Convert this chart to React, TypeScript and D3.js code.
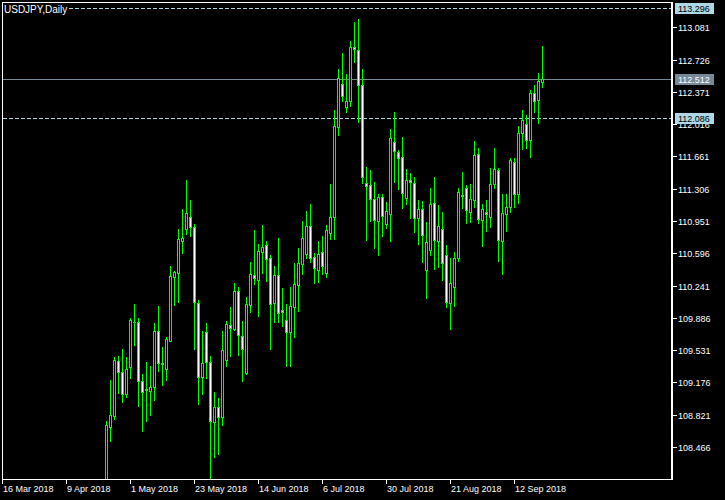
import React, { useEffect } from 'react';
import * as d3 from 'd3';

const chartTitle = 'USDJPY,Daily';
const calendarStart = '2018-03-16';
const calendarEnd = '2018-09-21';
const firstBarDate = '2018-04-23';
const tickDates = ['2018-03-16', '2018-04-09', '2018-05-01', '2018-05-23', '2018-06-14', '2018-07-06', '2018-07-30', '2018-08-21', '2018-09-12'];
const priceTicks = [113.081, 112.726, 112.371, 112.016, 111.661, 111.306, 110.951, 110.596, 110.241, 109.886, 109.531, 109.176, 108.821, 108.466];
const priceDomain = [108.114, 113.359];
const bidPrice = 112.512;
const levelPrices = [113.296, 112.086];

const openP = [107.700, 108.689, 108.810, 109.411, 109.287, 109.045, 109.342, 109.845, 109.837, 109.188,
  109.092, 109.085, 109.122, 109.738, 109.386, 109.327, 109.635, 110.338, 110.382, 110.734,
  110.860, 110.998, 110.888, 110.046, 109.239, 109.727, 109.397, 108.744, 108.902, 108.799,
  109.419, 109.804, 109.767, 110.178, 109.683, 109.283, 110.030, 110.354, 110.305, 110.607,
  110.684, 110.541, 110.052, 110.354, 109.969, 109.859, 109.734, 110.008, 110.250, 110.475,
  110.585, 110.893, 110.552, 110.409, 110.607, 110.376, 110.816, 110.998, 111.981, 112.454,
  112.201, 112.267, 112.861, 112.828, 112.443, 111.365, 111.343, 111.189, 110.954, 111.211,
  110.921, 111.025, 111.816, 111.706, 111.651, 111.207, 111.402, 111.365, 110.987, 111.080,
  110.415, 110.635, 111.146, 110.728, 110.860, 110.574, 110.052, 110.222, 110.547, 111.242,
  111.310, 111.047, 111.185, 111.684, 110.959, 111.047, 110.992, 111.361, 111.508, 110.734,
  111.025, 111.102, 111.596, 111.251, 111.915, 112.014, 111.838, 112.355, 112.278, 112.483];

const highP = [108.752, 109.202, 109.452, 109.466, 109.543, 109.455, 109.881, 110.038, 109.881, 109.268,
  109.400, 109.356, 109.826, 110.016, 109.565, 109.675, 110.453, 110.401, 110.860, 111.083,
  111.402, 111.182, 110.918, 110.082, 109.741, 109.826, 109.466, 109.070, 109.004, 109.741,
  109.851, 110.005, 110.269, 110.225, 109.851, 110.115, 110.500, 110.852, 110.698, 110.907,
  110.731, 110.577, 110.456, 110.764, 110.214, 110.038, 110.225, 110.489, 110.654, 110.951,
  111.061, 111.138, 110.599, 110.731, 110.786, 110.907, 111.358, 112.171, 112.619, 112.798,
  112.567, 112.927, 113.139, 113.172, 112.619, 111.545, 111.512, 111.380, 111.248, 111.248,
  111.160, 111.963, 112.149, 111.735, 111.875, 111.523, 111.479, 111.435, 111.182, 111.171,
  110.940, 111.314, 111.435, 111.127, 111.050, 110.687, 110.544, 110.610, 111.310, 111.490,
  111.347, 111.358, 111.831, 111.754, 111.138, 111.182, 111.530, 111.754, 111.530, 111.248,
  111.248, 111.644, 111.644, 111.992, 112.171, 112.116, 112.391, 112.446, 112.578, 112.875];

const lowP = [107.600, 108.535, 108.774, 109.063, 108.964, 109.019, 109.228, 109.591, 108.920, 108.645,
  108.755, 108.821, 108.986, 109.301, 109.151, 109.206, 109.628, 110.030, 110.063, 110.602,
  110.811, 110.789, 109.547, 108.942, 109.045, 109.228, 108.110, 108.352, 108.385, 108.711,
  109.360, 109.470, 109.752, 109.474, 109.195, 109.268, 109.953, 110.261, 109.910, 110.382,
  110.294, 109.547, 109.843, 109.837, 109.800, 109.360, 109.360, 109.679, 109.964, 110.371,
  110.544, 110.500, 110.272, 110.283, 110.371, 110.338, 110.756, 110.756, 111.900, 112.270,
  112.153, 112.219, 112.703, 112.043, 111.372, 110.745, 110.954, 110.657, 110.580, 110.789,
  110.877, 110.734, 111.383, 111.303, 111.097, 111.141, 110.987, 110.833, 110.701, 110.503,
  110.107, 110.580, 110.426, 110.448, 110.302, 110.008, 109.767, 110.019, 110.514, 111.094,
  110.932, 110.943, 111.108, 110.929, 110.679, 110.844, 110.888, 111.317, 110.514, 110.371,
  110.844, 111.053, 111.108, 111.152, 111.746, 111.757, 111.658, 112.153, 112.032, 112.421];

const closeP = [108.704, 108.814, 109.422, 109.294, 109.045, 109.327, 109.859, 109.840, 109.188, 109.067,
  109.103, 109.122, 109.738, 109.386, 109.384, 109.650, 110.346, 110.390, 110.750, 110.761,
  111.035, 110.888, 110.063, 109.239, 109.386, 109.404, 108.748, 108.902, 108.799, 109.532,
  109.818, 109.771, 110.178, 109.694, 109.540, 110.035, 110.368, 110.327, 110.618, 110.662,
  110.536, 110.041, 110.354, 109.942, 109.953, 109.734, 110.013, 110.255, 110.486, 110.761,
  110.893, 110.547, 110.431, 110.585, 110.459, 110.849, 110.992, 111.992, 112.527, 112.329,
  112.267, 112.861, 112.839, 112.443, 111.438, 111.332, 111.189, 110.965, 111.211, 111.003,
  111.058, 111.860, 111.717, 111.647, 111.262, 111.398, 111.376, 110.981, 111.080, 110.800,
  110.717, 111.135, 110.739, 110.893, 110.486, 110.063, 110.266, 110.541, 111.266, 111.231,
  111.069, 111.189, 111.673, 110.970, 111.086, 111.031, 111.354, 111.519, 110.739, 111.035,
  111.102, 111.618, 111.251, 111.915, 112.058, 111.838, 112.355, 112.267, 112.487, 112.512];

const W = 725;
const H = 500;
const PL = 2;
const PT = 2;
const PR = 672;
const PB = 479;
const LIME = '#00ff00';
const LEVEL = '#add8e6';
const BID = '#778899';
const FONT = '"Liberation Sans", Arial, sans-serif';

export default function App() {
  useEffect(() => {
    document.body.style.margin = '0';
    document.body.style.background = '#000';
  }, []);

  const parse = d3.timeParse('%Y-%m-%d');
  const key = d3.timeFormat('%Y-%m-%d');
  const label = d3.timeFormat('%-d %b %Y');
  const days = d3
    .timeDay.range(parse(calendarStart)!, d3.timeDay.offset(parse(calendarEnd)!, 1))
    .filter((d) => d.getDay() !== 0 && d.getDay() !== 6);
  const idx = new Map(days.map((d, i) => [key(d), i] as [string, number]));
  const first = idx.get(firstBarDate)!;

  const x = d3.scaleLinear().domain([0, 167.5]).range([PL, PR]);
  const y = d3.scaleLinear().domain(priceDomain).range([PB, PT]);

  const candles = openP.map((o, k) => {
    const c = closeP[k];
    const cx = Math.round(x(first + k));
    const yH = Math.round(y(highP[k]));
    const yL = Math.round(y(lowP[k]));
    const yT = Math.round(y(Math.max(o, c)));
    const yB = Math.round(y(Math.min(o, c)));
    const bull = c > o;
    return (
      <g key={k}>
        <rect x={cx} y={yH} width={1} height={yL - yH + 1} fill={LIME} />
        {yB - yT >= 1 ? (
          <rect x={cx - 0.5} y={yT + 0.5} width={2} height={yB - yT} fill={bull ? '#000' : '#fff'} stroke={LIME} strokeWidth={1} />
        ) : (
          <rect x={cx - 1} y={yT} width={3} height={1} fill={LIME} />
        )}
      </g>
    );
  });

  return (
    <svg width={W} height={H} style={{ position: 'absolute', left: 0, top: 0, background: '#000', display: 'block' }}>
      <defs>
        <clipPath id="plot">
          <rect x={PL + 1} y={PT + 1} width={PR - PL - 1} height={PB - PT - 1} />
        </clipPath>
      </defs>
      <rect x={0} y={0} width={W} height={H} fill="#000" />

      <g clipPath="url(#plot)">
        {levelPrices.map((p) => (
          <line key={p} x1={PL + 1} x2={PR} y1={Math.round(y(p)) + 0.5} y2={Math.round(y(p)) + 0.5} stroke={LEVEL} strokeWidth={1} strokeDasharray="4 2" />
        ))}
        <line x1={PL + 1} x2={PR} y1={Math.round(y(bidPrice)) + 0.5} y2={Math.round(y(bidPrice)) + 0.5} stroke={BID} strokeWidth={1} />
        {candles}
      </g>

      {/* frame */}
      <line x1={PL} x2={PR + 1} y1={PT + 0.5} y2={PT + 0.5} stroke="#fff" strokeWidth={1} />
      <line x1={PL + 0.5} x2={PL + 0.5} y1={PT} y2={PB + 1} stroke="#fff" strokeWidth={1} />
      <line x1={PL} x2={PR + 1} y1={PB + 0.5} y2={PB + 0.5} stroke="#fff" strokeWidth={1} />
      <rect x={PR - 1} y={PT} width={2} height={PB - PT + 1} fill="#fff" />

      {/* price axis */}
      {priceTicks.map((p) => {
        const yy = Math.round(y(p));
        return (
          <g key={p}>
            <line x1={PR + 1} x2={PR + 5} y1={yy + 0.5} y2={yy + 0.5} stroke="#fff" strokeWidth={1} />
            <text x={PR + 6} y={yy + 3.5} fill="#fff" fontFamily={FONT} fontSize={9}>
              {p.toFixed(3)}
            </text>
          </g>
        );
      })}
      {levelPrices.map((p) => {
        const yy = Math.round(y(p));
        return (
          <g key={'l' + p}>
            <rect x={PR + 3} y={yy - 5} width={39} height={11} fill={LEVEL} />
            <text x={PR + 6} y={yy + 3.5} fill="#000" fontFamily={FONT} fontSize={9}>
              {p.toFixed(3)}
            </text>
          </g>
        );
      })}
      {(() => {
        const yy = Math.round(y(bidPrice));
        return (
          <g>
            <rect x={PR + 3} y={yy - 5} width={39} height={11} fill={BID} />
            <text x={PR + 6} y={yy + 3.5} fill="#fff" fontFamily={FONT} fontSize={9}>
              {bidPrice.toFixed(3)}
            </text>
          </g>
        );
      })()}

      {/* time axis */}
      {tickDates.map((t) => {
        const i = idx.get(t)!;
        const xx = Math.round(x(i));
        return (
          <g key={t}>
            <line x1={xx + 0.5} x2={xx + 0.5} y1={PB + 1} y2={PB + 5} stroke="#fff" strokeWidth={1} />
            <text x={xx + 1} y={PB + 13} fill="#fff" fontFamily={FONT} fontSize={9}>
              {label(parse(t)!)}
            </text>
          </g>
        );
      })}

      {/* title */}
      <rect x={PL + 1} y={PT + 1} width={65} height={12} fill="#000" />
      <text x={PL + 2} y={PT + 11} fill="#fff" fontFamily={FONT} fontSize={10}>
        {chartTitle}
      </text>
    </svg>
  );
}
